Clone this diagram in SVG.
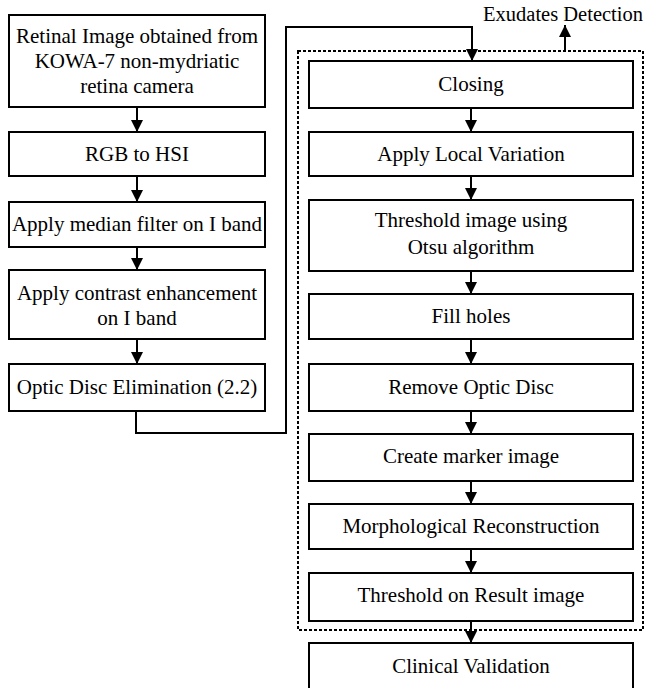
<svg xmlns="http://www.w3.org/2000/svg" width="647" height="688" viewBox="0 0 647 688">
<style>
.box{fill:#fff;stroke:#000;stroke-width:2}
.t{font-family:"Liberation Serif","Times New Roman",serif;font-size:21px;fill:#000;text-anchor:middle}
.ln{fill:none;stroke:#000;stroke-width:2}
.dot{fill:none;stroke:#000;stroke-width:2;stroke-dasharray:3,2}
</style>
<defs>
<marker id="ah" viewBox="0 0 12 12" refX="12" refY="6" markerWidth="12" markerHeight="12" markerUnits="userSpaceOnUse" orient="auto">
<path d="M0,0 L12,6 L0,12 Z" fill="#000"/>
</marker>
</defs>
<rect width="647" height="688" fill="#fff"/>
<g id="group-exudates">
<rect class="dot" x="298" y="51" width="345" height="579"/>
<text class="t" x="563" y="21" style="font-size:20.5px">Exudates Detection</text>
</g>
<g id="connectors">
<line class="ln" x1="137" y1="107" x2="137" y2="132" marker-end="url(#ah)"/>
<line class="ln" x1="137" y1="176" x2="137" y2="202" marker-end="url(#ah)"/>
<line class="ln" x1="137" y1="247" x2="137" y2="270" marker-end="url(#ah)"/>
<line class="ln" x1="137" y1="339" x2="137" y2="364" marker-end="url(#ah)"/>
<polyline class="ln" points="136,411 136,433 286,433 286,27 472,27 472,61" marker-end="url(#ah)"/>
<line class="ln" x1="471" y1="108" x2="471" y2="132" marker-end="url(#ah)"/>
<line class="ln" x1="471" y1="176" x2="471" y2="200" marker-end="url(#ah)"/>
<line class="ln" x1="471" y1="271" x2="471" y2="294" marker-end="url(#ah)"/>
<line class="ln" x1="471" y1="339" x2="471" y2="364" marker-end="url(#ah)"/>
<line class="ln" x1="471" y1="411" x2="471" y2="434" marker-end="url(#ah)"/>
<line class="ln" x1="471" y1="481" x2="471" y2="504" marker-end="url(#ah)"/>
<line class="ln" x1="471" y1="549" x2="471" y2="573" marker-end="url(#ah)"/>
<line class="ln" x1="471" y1="621" x2="471" y2="643" marker-end="url(#ah)"/>
<line class="ln" x1="565" y1="51" x2="565" y2="25" marker-end="url(#ah)"/>
</g>
<g id="n-retinal"><rect class="box" x="9" y="15" width="256" height="92"/>
<text class="t" x="137" y="43">Retinal Image obtained from</text>
<text class="t" x="137" y="68">KOWA-7 non-mydriatic</text>
<text class="t" x="137" y="93">retina camera</text></g>
<g id="n-rgb"><rect class="box" x="9" y="132" width="256" height="44"/>
<text class="t" x="137" y="161">RGB to HSI</text></g>
<g id="n-median"><rect class="box" x="9" y="202" width="256" height="45"/>
<text class="t" x="137" y="231">Apply median filter on I band</text></g>
<g id="n-contrast"><rect class="box" x="9" y="270" width="256" height="69"/>
<text class="t" x="137" y="300">Apply contrast enhancement</text>
<text class="t" x="137" y="325">on I band</text></g>
<g id="n-odelim"><rect class="box" x="9" y="364" width="256" height="47"/>
<text class="t" x="137" y="394">Optic Disc Elimination (2.2)</text></g>
<g id="n-closing"><rect class="box" x="309" y="61" width="324" height="47"/>
<text class="t" x="471" y="91">Closing</text></g>
<g id="n-localvar"><rect class="box" x="309" y="132" width="324" height="44"/>
<text class="t" x="471" y="161">Apply Local Variation</text></g>
<g id="n-otsu"><rect class="box" x="309" y="200" width="324" height="71"/>
<text class="t" x="471" y="227">Threshold image using</text>
<text class="t" x="471" y="254">Otsu algorithm</text></g>
<g id="n-fill"><rect class="box" x="309" y="294" width="324" height="45"/>
<text class="t" x="471" y="323">Fill holes</text></g>
<g id="n-remove"><rect class="box" x="309" y="364" width="324" height="47"/>
<text class="t" x="471" y="394">Remove Optic Disc</text></g>
<g id="n-marker"><rect class="box" x="309" y="434" width="324" height="47"/>
<text class="t" x="471" y="463">Create marker image</text></g>
<g id="n-morph"><rect class="box" x="309" y="504" width="324" height="45"/>
<text class="t" x="471" y="533">Morphological Reconstruction</text></g>
<g id="n-thresh"><rect class="box" x="309" y="573" width="324" height="48"/>
<text class="t" x="471" y="602">Threshold on Result image</text></g>
<g id="n-clinical"><rect class="box" x="309" y="643" width="324" height="50"/>
<text class="t" x="471" y="673">Clinical Validation</text></g>
</svg>
